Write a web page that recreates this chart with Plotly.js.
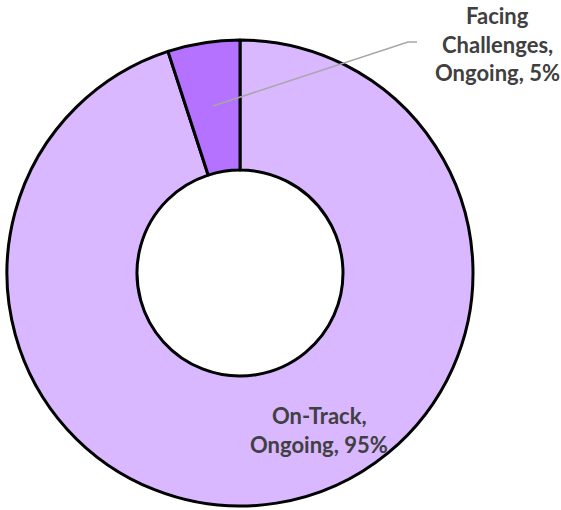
<!DOCTYPE html>
<html><head><meta charset="utf-8">
<script src="https://cdn.plot.ly/plotly-3.0.1.min.js"></script>
<style>html,body{margin:0;padding:0;background:#fff}#c{width:561px;height:510px}</style>
</head><body><div id="c"></div>
<script>
const labels = ["On-Track, Ongoing", "Facing Challenges, Ongoing"];
const values = [95, 5];
const colors = ["#D9B8FF", "#B571FF"];
const labelLines1 = ["Facing", "Challenges,", "Ongoing, 5%"];
const labelLines2 = ["On-Track,", "Ongoing, 95%"];

const W = 561, H = 510;
const cx = 240, cy = 273, R = 233;
const font = {family: "Lato, 'Open Sans', sans-serif", size: 22, color: "#404040", weight: 700};

const ann = [];
labelLines1.forEach((t, i) => ann.push({xref:"paper", yref:"paper", x: 497/W, y: 1 - (15 + i*29)/H,
  text: "<b>"+t+"</b>", showarrow:false, font: font, xanchor:"center", yanchor:"middle"}));
labelLines2.forEach((t, i) => ann.push({xref:"paper", yref:"paper", x: 319/W, y: 1 - (415 + i*29)/H,
  text: "<b>"+t+"</b>", showarrow:false, font: font, xanchor:"center", yanchor:"middle"}));

const data = [{
  type: "pie", labels: labels, values: values, hole: 0.442, sort: false,
  direction: "clockwise", rotation: 0,
  marker: {colors: colors, line: {color: "#000", width: 3}},
  textinfo: "none", hoverinfo: "label+percent",
  domain: {x: [(cx-R)/W, (cx+R)/W], y: [(H-cy-R)/H, (H-cy+R)/H]}
}];

const layout = {
  width: W, height: H, margin: {l:0, r:0, t:0, b:0},
  paper_bgcolor: "#fff", showlegend: false,
  annotations: ann,
  shapes: [{type:"path", xref:"paper", yref:"paper",
    path: `M ${213/W} ${1-106/H} L ${408/W} ${1-42/H} L ${417/W} ${1-42/H}`,
    line: {color:"#A6A6A6", width:1.5}}]
};
Plotly.newPlot("c", data, layout, {displayModeBar:false, staticPlot:true});
</script></body></html>
